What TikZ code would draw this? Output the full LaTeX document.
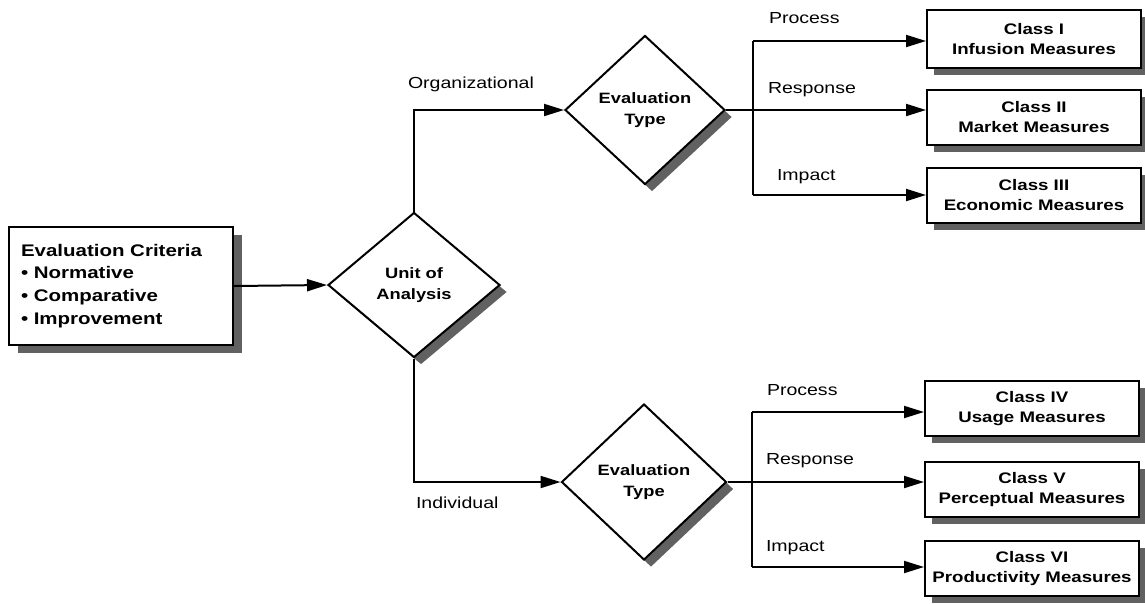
\documentclass[tikz,border=0pt]{standalone}
\usepackage{fontspec}
\setmainfont{Liberation Sans}[FakeStretch=1.22]
\usetikzlibrary{shapes.geometric,arrows.meta,shadows}
\begin{document}
\begin{tikzpicture}[x=1pt,y=-1pt,
  line width=2pt,
  shd/.style={drop shadow={shadow xshift=7pt,shadow yshift=-7pt,fill=black!62,opacity=1}},
  cbox/.style={draw,fill=white,shd,rectangle,minimum width=214pt,minimum height=55pt,
     align=center,inner sep=2pt,font=\fontsize{15.3}{20}\selectfont\bfseries},
  dia/.style={draw,fill=white,diamond,shd,inner sep=0pt,align=center,
     font=\fontsize{15}{20.5}\selectfont\bfseries},
  lab/.style={font=\fontsize{16}{19}\selectfont,inner sep=0pt},
  arr/.style={-{Triangle[length=20pt,width=12pt]}}]
\useasboundingbox (0,0) rectangle (1145,603);
% main nodes
\node[draw,fill=white,rectangle,
  drop shadow={shadow xshift=9pt,shadow yshift=-8pt,fill=black!62,opacity=1},
  minimum width=224pt,minimum height=118pt,text width=200pt,align=left,inner sep=0pt,
  font=\fontsize{16.8}{23}\selectfont\bfseries] (crit) at (121,286)
  {Evaluation Criteria\\[-1pt] \textbullet\ Normative\\ \textbullet\ Comparative\\ \textbullet\ Improvement};
\node[dia,minimum width=172pt,minimum height=145pt] (unit) at (414,285) {Unit of\\Analysis};
\node[dia,minimum width=160pt,minimum height=149pt] (ue) at (645,110) {Evaluation\\Type};
\node[dia,minimum width=165pt,minimum height=156pt] (le) at (644,482) {Evaluation\\Type};
% class boxes
\node[cbox,minimum height=58pt] (c1) at (1034,39) {Class I\\Infusion Measures};
\node[cbox] (c2) at (1034,117.5) {Class II\\Market Measures};
\node[cbox] (c3) at (1034,195) {Class III\\Economic Measures};
\node[cbox] (c4) at (1032,408.5) {Class IV\\Usage Measures};
\node[cbox] (c5) at (1032,489.5) {Class V\\Perceptual Measures};
\node[cbox] (c6) at (1032,568.5) {Class VI\\Productivity Measures};
% bus coordinates
\coordinate (ub1) at (753,41);
\coordinate (ub3) at (753,195);
\coordinate (lb1) at (752,412);
\coordinate (lb3) at (752,567);
\coordinate (ub2) at (ue.east -| ub1);
\coordinate (lb2) at (le.east -| lb1);
% connectors
\draw[arr] (crit.east) -- (unit.west);
\draw[arr] (unit.north) |- (ue.west);
\draw[arr] (unit.south) |- (le.west);
\draw (ue.east) -- (ub2);
\draw (le.east) -- (lb2);
\draw (ub1) -- (ub3);
\draw (lb1) -- (lb3);
\draw[arr] (ub1) -- (ub1 -| c1.west);
\draw[arr] (ub2) -- (ub2 -| c2.west);
\draw[arr] (ub3) -- (ub3 -| c3.west);
\draw[arr] (lb1) -- (lb1 -| c4.west);
\draw[arr] (lb2) -- (lb2 -| c5.west);
\draw[arr] (lb3) -- (lb3 -| c6.west);
% labels
\node[lab,anchor=west] (lorg) at (407,84) {Organizational};
\node[lab,anchor=west] (lind) at (415,503) {Individual};
\node[lab,anchor=west] (up) at (768,18) {Process};
\node[lab,anchor=west] (ur) at (767,90) {Response};
\node[lab,anchor=west] (ui) at (776,177) {Impact};
\node[lab,anchor=west] (lp) at (766,390) {Process};
\node[lab,anchor=west] (lr) at (765,461) {Response};
\node[lab,anchor=west] (li) at (765,548) {Impact};
\end{tikzpicture}
\end{document}
